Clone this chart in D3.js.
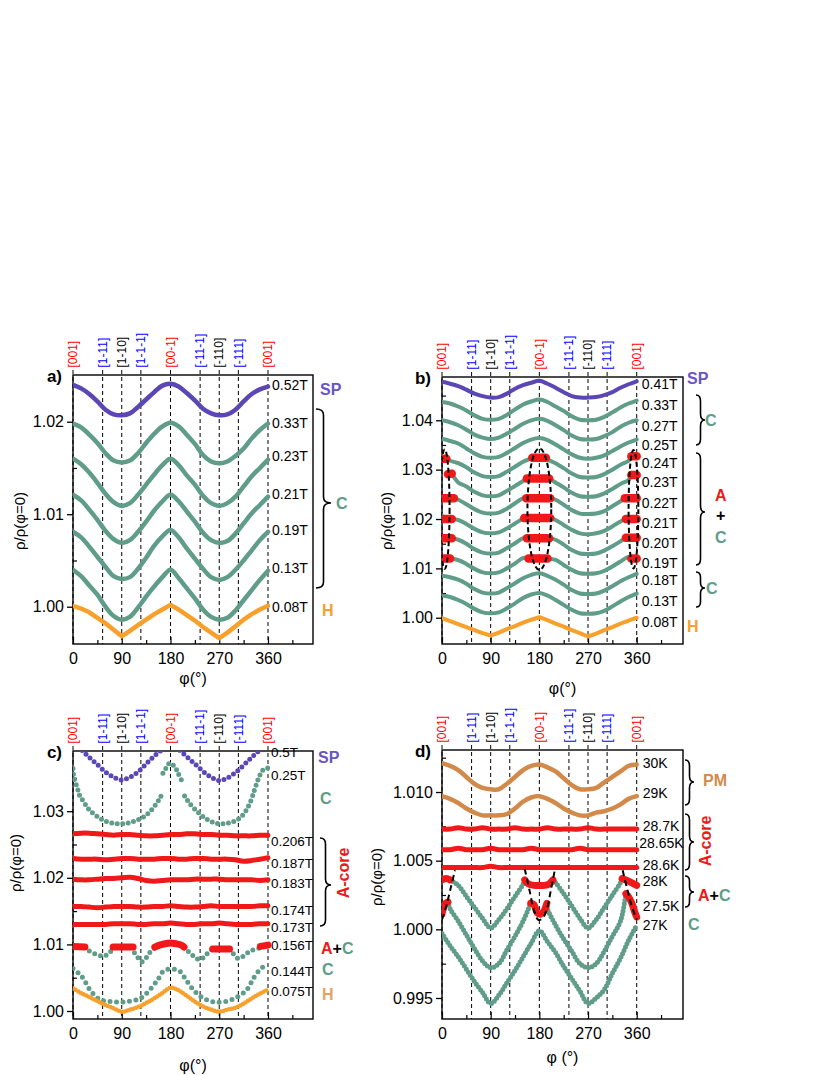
<!DOCTYPE html>
<html>
<head>
<meta charset="utf-8">
<script src="https://cdn.jsdelivr.net/npm/d3@7"></script>
<style>
body { margin: 0; background: #fff; }
text { font-family: "Liberation Sans", Arial, sans-serif; }
</style>
</head>
<body>
<svg id="fig" width="830" height="1075"></svg>
<script>
// rotation angle grid (deg)
var PHI = [0,15,30,45,60,75,90,105,120,135,150,165,180,195,210,225,240,255,270,285,300,315,330,345,360];

// crystal directions on top
var dirAngle = [0,54.7,90,125.3,180,234.7,270,305.3,360];
var dirName = ["[001]","[1-11]","[1-10]","[1-1-1]","[00-1]","[-11-1]","[-110]","[-111]","[001]"];
var dirColor = ["#ff0000","#0000ff","#000","#0000ff","#ff0000","#0000ff","#000","#0000ff","#ff0000"];
var xMajor = [0,90,180,270,360];
var xMinor = [45,135,225,315,405];

// ---- panel a
var aLabels = ["0.52T","0.33T","0.23T","0.21T","0.19T","0.13T","0.08T"];
var aLabelAt = [1.0240,1.0199,1.0163,1.0122,1.0083,1.0042,1.0000];
var aPhase = ["SP","C","C","C","C","C","H"];
var a052 = [1.0240,1.0236,1.0230,1.0222,1.0213,1.0208,1.0207,1.0209,1.0216,1.0224,1.0232,1.0239,1.0241,1.0238,1.0231,1.0223,1.0214,1.0209,1.0207,1.0208,1.0213,1.0222,1.0230,1.0235,1.0238];
var a033 = [1.0198,1.0194,1.0186,1.0177,1.0166,1.0158,1.0156,1.0158,1.0166,1.0177,1.0187,1.0195,1.0199,1.0195,1.0186,1.0176,1.0164,1.0157,1.0155,1.0157,1.0163,1.0171,1.0182,1.0191,1.0198];
var a023 = [1.0160,1.0154,1.0145,1.0134,1.0122,1.0113,1.0109,1.0112,1.0121,1.0132,1.0143,1.0153,1.0160,1.0153,1.0142,1.0132,1.0120,1.0112,1.0109,1.0112,1.0119,1.0130,1.0141,1.0150,1.0159];
var a021 = [1.0121,1.0115,1.0105,1.0094,1.0082,1.0073,1.0069,1.0072,1.0081,1.0092,1.0104,1.0114,1.0121,1.0114,1.0103,1.0092,1.0080,1.0072,1.0069,1.0071,1.0079,1.0090,1.0101,1.0110,1.0119];
var a019 = [1.0081,1.0075,1.0065,1.0054,1.0043,1.0033,1.0030,1.0032,1.0041,1.0053,1.0066,1.0076,1.0083,1.0075,1.0063,1.0052,1.0041,1.0032,1.0029,1.0032,1.0040,1.0050,1.0061,1.0072,1.0081];
var a013 = [1.0040,1.0033,1.0023,1.0013,1.0000,0.9990,0.9986,0.9989,0.9999,1.0011,1.0022,1.0032,1.0040,1.0031,1.0020,1.0009,0.9997,0.9989,0.9986,0.9988,0.9996,1.0007,1.0018,1.0029,1.0039];
var a008 = [1.0001,0.9998,0.9994,0.9988,0.9982,0.9975,0.9968,0.9974,0.9980,0.9986,0.9992,0.9997,1.0002,0.9997,0.9991,0.9985,0.9978,0.9972,0.9966,0.9972,0.9979,0.9986,0.9992,0.9997,1.0001];

// ---- panel b
var bLabels = ["0.41T","0.33T","0.27T","0.25T","0.24T","0.23T","0.22T","0.21T","0.20T","0.19T","0.18T","0.13T","0.08T"];
var bLabelAt = [1.0473,1.0430,1.0388,1.0350,1.0314,1.0275,1.0233,1.0192,1.0152,1.0110,1.0076,1.0034,0.9992];
var bPhase = ["SP","C","C","C","AC","AC","AC","AC","AC","AC","C","C","H"];
var b041 = [1.0478,1.0474,1.0469,1.0462,1.0454,1.0449,1.0446,1.0447,1.0454,1.0464,1.0471,1.0476,1.0480,1.0474,1.0466,1.0457,1.0449,1.0446,1.0446,1.0447,1.0451,1.0457,1.0466,1.0473,1.0479];
var b033 = [1.0437,1.0434,1.0428,1.0420,1.0410,1.0403,1.0401,1.0403,1.0411,1.0422,1.0432,1.0438,1.0442,1.0437,1.0428,1.0419,1.0408,1.0401,1.0400,1.0401,1.0407,1.0416,1.0426,1.0434,1.0440];
var b027 = [1.0400,1.0396,1.0390,1.0381,1.0371,1.0365,1.0362,1.0365,1.0373,1.0383,1.0393,1.0400,1.0403,1.0399,1.0390,1.0380,1.0369,1.0362,1.0361,1.0362,1.0368,1.0376,1.0387,1.0395,1.0400];
var b025 = [1.0363,1.0358,1.0353,1.0343,1.0333,1.0326,1.0324,1.0326,1.0334,1.0344,1.0354,1.0361,1.0364,1.0360,1.0351,1.0341,1.0331,1.0324,1.0322,1.0324,1.0329,1.0338,1.0347,1.0355,1.0361];
var b024 = [1.0321,1.0318,1.0313,1.0305,1.0294,1.0287,1.0285,1.0287,1.0296,1.0306,1.0316,1.0323,1.0326,1.0321,1.0313,1.0303,1.0292,1.0285,1.0284,1.0285,1.0291,1.0300,1.0310,1.0318,1.0325];
var b023 = [null,1.0279,1.0274,1.0266,1.0255,1.0248,1.0246,1.0248,1.0257,1.0267,1.0277,1.0284,1.0287,1.0282,1.0274,1.0264,1.0253,1.0246,1.0245,1.0246,1.0252,1.0261,1.0271,1.0279,1.0286];
var b022 = [1.0247,1.0244,1.0239,1.0230,1.0220,1.0213,1.0211,1.0213,1.0221,1.0232,1.0242,1.0249,1.0252,1.0247,1.0239,1.0229,1.0218,1.0211,1.0210,1.0211,1.0216,1.0226,1.0236,1.0244,1.0251];
var b021 = [1.0207,1.0203,1.0198,1.0190,1.0180,1.0173,1.0171,1.0173,1.0181,1.0191,1.0201,1.0208,1.0212,1.0207,1.0198,1.0188,1.0178,1.0171,1.0169,1.0171,1.0176,1.0185,1.0195,1.0203,1.0210];
var b020 = [1.0166,1.0163,1.0158,1.0150,1.0139,1.0132,1.0130,1.0132,1.0141,1.0151,1.0161,1.0168,1.0171,1.0166,1.0158,1.0148,1.0137,1.0130,1.0129,1.0130,1.0136,1.0145,1.0155,1.0163,1.0170];
var b019 = [1.0126,1.0123,1.0117,1.0109,1.0099,1.0092,1.0090,1.0092,1.0100,1.0110,1.0121,1.0127,1.0131,1.0126,1.0117,1.0107,1.0097,1.0090,1.0089,1.0090,1.0095,1.0104,1.0114,1.0123,1.0130];
var b018 = [1.0085,1.0082,1.0077,1.0069,1.0058,1.0051,1.0049,1.0051,1.0060,1.0070,1.0080,1.0087,1.0090,1.0085,1.0077,1.0067,1.0056,1.0049,1.0048,1.0049,1.0055,1.0064,1.0074,1.0082,1.0089];
var b013 = [1.0045,1.0042,1.0036,1.0028,1.0018,1.0011,1.0009,1.0011,1.0019,1.0029,1.0040,1.0047,1.0050,1.0045,1.0036,1.0026,1.0016,1.0009,1.0008,1.0009,1.0014,1.0023,1.0033,1.0042,1.0049];
var b008 = [0.9999,0.9993,0.9987,0.9981,0.9975,0.9969,0.9964,0.9970,0.9977,0.9983,0.9990,0.9996,1.0001,0.9995,0.9988,0.9982,0.9975,0.9969,0.9962,0.9968,0.9975,0.9981,0.9988,0.9994,1.0000];
// red (A phase) pieces of the A+C curves: [phi, value] points
var bRed024 = [[[0,1.0322],[8,1.0322]], [[167,1.0324],[192,1.0324]], [[350,1.0327],[360,1.0327]]];
var bRed023 = [[[11,1.0291],[18,1.0292]], [[157,1.0282],[198,1.0282]], [[350,1.0289],[360,1.0289]]];
var bRed022 = [[[0,1.0242],[22,1.0242]], [[156,1.0242],[200,1.0242]], [[338,1.0242],[360,1.0242]]];
var bRed021 = [[[2,1.0200],[18,1.0200]], [[152,1.0202],[200,1.0202]], [[340,1.0200],[360,1.0200]]];
var bRed020 = [[[0,1.0161],[18,1.0161]], [[157,1.0161],[198,1.0161]], [[340,1.0162],[360,1.0162]]];
var bRed019 = [[[0,1.0120],[15,1.0120]], [[160,1.0120],[195,1.0120]], [[350,1.0120],[360,1.0120]]];
// dashed ellipses: [phi centre, value centre, phi half width, value half height]
var bEllipse = [[5,1.0220,9,0.0121],[180,1.0220,22,0.0123],[354,1.0220,9,0.0120]];

// ---- panel c
var cLabels = ["0.5T","0.25T","0.206T","0.187T","0.183T","0.174T","0.173T","0.156T","0.144T","0.075T"];
var cLabelAt = [1.0389,1.0354,1.0255,1.0222,1.0192,1.0152,1.0126,1.0098,1.0060,1.0029];
var c05 = [1.0412,1.0393,1.0381,1.0370,1.0359,1.0351,1.0347,1.0351,1.0359,1.0371,1.0383,1.0393,1.0405,1.0393,1.0382,1.0371,1.0360,1.0351,1.0346,1.0350,1.0358,1.0369,1.0381,1.0392,1.0405];
var cPhi025 = [0,2,8,12,20,30,45,60,75,90,105,120,135,150,160,166,null,166,172,178,184,190,194,200,null,206,215,230,245,260,275,290,305,318,328,335,340,345,352,360];
var c025 = [1.0364,1.0350,1.0335,1.0324,1.0314,1.0302,1.0292,1.0285,1.0282,1.0281,1.0283,1.0287,1.0294,1.0307,1.0319,1.0329,null,1.0357,1.0365,1.0372,1.0370,1.0364,1.0357,1.0347,null,1.0323,1.0312,1.0299,1.0289,1.0283,1.0281,1.0283,1.0288,1.0299,1.0315,1.0332,1.0344,1.0354,1.0363,1.0365];
var c206 = [1.0266,1.0267,1.0267,1.0266,1.0265,1.0264,1.0265,1.0265,1.0264,1.0263,1.0263,1.0264,1.0265,1.0265,1.0266,1.0266,1.0265,1.0265,1.0264,1.0264,1.0263,1.0263,1.0263,1.0264,1.0264];
var c187 = [1.0229,1.0228,1.0228,1.0228,1.0227,1.0228,1.0229,1.0229,1.0228,1.0228,1.0228,1.0229,1.0229,1.0228,1.0228,1.0229,1.0229,1.0228,1.0228,1.0228,1.0227,1.0225,1.0226,1.0228,1.0230];
var c183 = [1.0198,1.0197,1.0197,1.0198,1.0199,1.0199,1.0200,1.0201,1.0199,1.0196,1.0195,1.0196,1.0197,1.0197,1.0197,1.0198,1.0198,1.0198,1.0198,1.0197,1.0197,1.0197,1.0197,1.0196,1.0197];
var c174 = [1.0157,1.0157,1.0156,1.0155,1.0156,1.0157,1.0157,1.0157,1.0156,1.0156,1.0157,1.0157,1.0158,1.0157,1.0156,1.0156,1.0157,1.0158,1.0157,1.0157,1.0157,1.0157,1.0157,1.0158,1.0158];
var c173 = [1.0130,1.0130,1.0130,1.0130,1.0130,1.0131,1.0131,1.0131,1.0130,1.0130,1.0131,1.0131,1.0132,1.0131,1.0130,1.0130,1.0131,1.0131,1.0132,1.0131,1.0130,1.0130,1.0130,1.0131,1.0131];
var cPhi156 = [0,20,30,40,50,56,62,70,78,90,105,112,120,127,135,142,150,165,180,195,205,215,225,234,242,250,259,275,290,298,305,312,320,330,345,360];
var c156 = [1.0096,1.0094,1.0090,1.0086,1.0083,1.0082,1.0084,1.0090,1.0095,1.0097,1.0096,1.0090,1.0080,1.0074,1.0080,1.0088,1.0094,1.0099,1.0100,1.0099,1.0095,1.0088,1.0081,1.0077,1.0081,1.0088,1.0093,1.0093,1.0092,1.0084,1.0079,1.0081,1.0086,1.0091,1.0095,1.0097];
var cRed156 = [[[0,1.0097],[22,1.0096]], [[74,1.0096],[111,1.0096]], [[151,1.0096],[160,1.0099],[170,1.0101],[180,1.0102],[190,1.0101],[200,1.0099],[205,1.0096]], [[258,1.0093],[289,1.0093]], [[346,1.0097],[360,1.0099]]];
var cPhi144 = [0,10,19,31,50,74,99,124,142,158,167,179,190,198,207,222,241,265,296,321,333,345,354,360];
var c144 = [1.0064,1.0057,1.0049,1.0032,1.0017,1.0014,1.0014,1.0019,1.0032,1.0049,1.0060,1.0063,1.0062,1.0059,1.0049,1.0032,1.0019,1.0013,1.0018,1.0032,1.0049,1.0062,1.0067,1.0064];
var c075 = [1.0034,1.0027,1.0021,1.0015,1.0009,1.0004,0.9999,1.0002,1.0006,1.0012,1.0019,1.0027,1.0035,1.0031,1.0023,1.0014,1.0007,1.0002,0.9999,1.0002,1.0005,1.0011,1.0019,1.0026,1.0032];

// ---- panel d
var dLabels = ["30K","29K","28.7K","28.65K","28.6K","28K","27.5K","27K"];
var dLabelAt = [1.0121,1.0099,1.0075,1.0063,1.0047,1.0035,1.0017,1.0003];
var d30 = [1.0121,1.0119,1.0116,1.0111,1.0106,1.0103,1.0102,1.0102,1.0106,1.0111,1.0116,1.0119,1.0120,1.0118,1.0115,1.0110,1.0105,1.0102,1.0102,1.0103,1.0107,1.0111,1.0115,1.0119,1.0120];
var d29 = [1.0097,1.0095,1.0092,1.0088,1.0085,1.0083,1.0083,1.0083,1.0084,1.0088,1.0093,1.0096,1.0097,1.0095,1.0092,1.0088,1.0085,1.0083,1.0083,1.0085,1.0086,1.0088,1.0091,1.0095,1.0097];
var d287 = [1.0073,1.0073,1.0074,1.0073,1.0073,1.0074,1.0073,1.0073,1.0073,1.0074,1.0073,1.0073,1.0073,1.0074,1.0073,1.0073,1.0073,1.0073,1.0074,1.0073,1.0073,1.0073,1.0073,1.0073,1.0073];
var d2865 = [1.0058,1.0058,1.0059,1.0058,1.0058,1.0058,1.0059,1.0058,1.0058,1.0058,1.0058,1.0059,1.0058,1.0058,1.0058,1.0058,1.0058,1.0059,1.0058,1.0058,1.0058,1.0058,1.0058,1.0058,1.0058];
var d286 = [1.0045,1.0045,1.0045,1.0045,1.0045,1.0045,1.0046,1.0045,1.0045,1.0045,1.0045,1.0045,1.0045,1.0045,1.0045,1.0045,1.0045,1.0045,1.0045,1.0045,1.0045,1.0045,1.0045,1.0045,1.0045];
var d28 = [null,1.0037,1.0032,1.0024,1.0016,1.0008,1.0001,1.0007,1.0015,1.0024,1.0033,null,null,null,1.0034,1.0026,1.0017,1.0008,1.0001,1.0007,1.0016,1.0025,1.0034,null,null];
var dRed28 = [[[0,1.0036],[8,1.0037],[15,1.0036]], [[153,1.0036],[160,1.0033],[170,1.0032],[180,1.0032],[190,1.0032],[198,1.0033],[205,1.0036]], [[333,1.0037],[345,1.0035],[360,1.0032]]];
var d275 = [null,1.0015,1.0006,0.9996,0.9986,0.9977,0.9972,0.9975,0.9985,0.9995,1.0006,null,null,1.0015,1.0003,0.9993,0.9984,0.9975,0.9972,0.9975,0.9984,0.9995,1.0006,null,null];
var dRed275 = [[[0,1.0011],[3,1.0016],[7,1.0019],[11,1.0020]], [[164,1.0019],[170,1.0018],[176,1.0012],[182,1.0011],[188,1.0013],[194,1.0019]], [[340,1.0026],[346,1.0023],[352,1.0018],[356,1.0013],[360,1.0009]]];
var d27 = [0.9997,0.9988,0.9980,0.9971,0.9962,0.9954,0.9946,0.9952,0.9961,0.9970,0.9980,0.9990,0.9999,0.9991,0.9983,0.9973,0.9964,0.9955,0.9946,0.9950,0.9956,0.9968,0.9979,0.9992,1.0003];
var dArcs = [
  [[0,1.0007],[8,1.0017],[16,1.0030],[24,1.0043]],
  [[153,1.0044],[162,1.0028],[170,1.0014],[178,1.0007],[186,1.0008],[194,1.0015],[201,1.0028],[209,1.0044]],
  [[334,1.0043],[342,1.0030],[350,1.0018],[360,1.0007]]
];

var COL = {SP:"#5b46b5", C:"#5f9d88", H:"#f8a02c", A:"#f01818", PM:"#d28a4a", Htan:"#e7a262", SPt:"#6a54c4"};

var svg = d3.select("#fig");
var defs = svg.append("defs");

function panel(p){
  var x = d3.scaleLinear().domain([0, p.xmax]).range([p.left, p.right]);
  var y = d3.scaleLinear().domain(p.ydom).range([p.bottom, p.top]);
  var g = svg.append("g");
  defs.append("clipPath").attr("id","clip-"+p.id).append("rect")
    .attr("x",p.left).attr("y",p.top).attr("width",p.right-p.left).attr("height",p.bottom-p.top);

  // y axis
  g.append("g").attr("transform","translate("+p.left+",0)")
    .call(d3.axisLeft(y).tickValues(p.major).tickSize(6).tickPadding(3).tickFormat(d3.format(p.fmt)))
    .call(function(a){ a.select(".domain").remove(); })
    .attr("font-family",null).attr("font-size",16)
    .call(function(a){ a.selectAll("line").attr("stroke","#000").attr("stroke-width",1.3); a.selectAll("text").attr("fill","#000"); });
  g.append("g").attr("transform","translate("+p.left+",0)")
    .call(d3.axisLeft(y).tickValues(p.minor).tickSize(-4).tickFormat(""))
    .call(function(a){ a.select(".domain").remove(); a.selectAll("line").attr("stroke","#000").attr("stroke-width",1.2); });
  // x axis
  g.append("g").attr("transform","translate(0,"+p.bottom+")")
    .call(d3.axisBottom(x).tickValues(xMajor).tickSize(-7).tickPadding(9).tickFormat(d3.format("d")))
    .call(function(a){ a.select(".domain").remove(); })
    .attr("font-family",null).attr("font-size",16)
    .call(function(a){ a.selectAll("line").attr("stroke","#000").attr("stroke-width",1.2); a.selectAll("text").attr("fill","#000"); });
  g.append("g").attr("transform","translate(0,"+p.bottom+")")
    .call(d3.axisBottom(x).tickValues(xMinor).tickSize(-4).tickFormat(""))
    .call(function(a){ a.select(".domain").remove(); a.selectAll("line").attr("stroke","#000").attr("stroke-width",1.2); });

  // direction lines and labels
  dirAngle.forEach(function(f,i){
    g.append("line").attr("x1",x(f)).attr("x2",x(f)).attr("y1",p.top-5).attr("y2",p.bottom)
      .attr("stroke","#000").attr("stroke-width",1).attr("stroke-dasharray","4,3");
    g.append("text").attr("transform","translate("+x(f)+","+(p.top-7.5)+") rotate(-90)")
      .attr("dy","0.35em").attr("font-size",12).attr("fill",dirColor[i]).text(dirName[i]);
  });

  // frame
  g.append("rect").attr("x",p.left).attr("y",p.top).attr("width",p.right-p.left).attr("height",p.bottom-p.top)
    .attr("fill","none").attr("stroke","#000").attr("stroke-width",1.4);

  // titles
  g.append("text").attr("x",p.left-11).attr("y",p.top+7).attr("text-anchor","end")
    .attr("font-size",17).attr("font-weight","bold").text(p.tag);
  g.append("text").attr("x",(p.left+p.right)/2).attr("y",p.xtY).attr("dy","0.35em").attr("text-anchor","middle")
    .attr("font-size",16).text(p.xt);
  g.append("text").attr("transform","translate("+p.ytX+","+p.ytY+") rotate(-90)").attr("dy","0.35em")
    .attr("text-anchor","middle").attr("font-size",15).text("ρ/ρ(φ=0)");

  var plot = svg.append("g").attr("clip-path","url(#clip-"+p.id+")");
  return {x:x, y:y, g:g, plot:plot, p:p};
}

function pairs(phi, vals){
  return phi.map(function(f,i){ return (f==null || vals[i]==null) ? null : [f, vals[i]]; });
}

// curve points outside the red pieces, joined to their ends
function splitByRed(phi, vals, reds){
  var wins = reds.map(function(r){ return [r[0][0], r[r.length-1][0]]; });
  var pts = [];
  phi.forEach(function(f,i){
    if (vals[i]==null) return;
    if (wins.some(function(w){ return f>=w[0] && f<=w[1]; })) return;
    pts.push([f, vals[i], "c"]);
  });
  reds.forEach(function(r){
    pts.push([r[0][0], r[0][1], "s"]);
    pts.push([r[r.length-1][0], r[r.length-1][1], "e"]);
  });
  pts.sort(function(a,b){ return a[0]-b[0] || (a[2]==="s" ? -1 : 1); });
  var out = [];
  pts.forEach(function(q){ if (q[2]==="e") out.push(null); out.push(q); });
  return out;
}

function draw(P, data, color, width, curve, dotGap){
  var line = d3.line().defined(function(d){ return d!=null; })
    .x(function(d){ return P.x(d[0]); }).y(function(d){ return P.y(d[1]); })
    .curve(curve || d3.curveCatmullRom);
  var path = P.plot.append("path").attr("d", line(data)).attr("fill","none")
    .attr("stroke",color).attr("stroke-width",width).attr("stroke-linecap","round").attr("stroke-linejoin","round");
  if (dotGap) path.attr("stroke-dasharray","0 "+dotGap);
  return path;
}

function drawRed(P, reds, width){
  reds.forEach(function(r){ draw(P, r, COL.A, width, d3.curveCatmullRom); });
}

function labels(P, names, at, dx, size){
  names.forEach(function(s,i){
    var yy = Math.max(P.p.top, P.y(at[i]));
    var ddx = typeof dx === "function" ? dx(s) : dx;
    P.g.append("text").attr("x",P.x(360)+ddx).attr("y",yy).attr("dy","0.35em")
      .attr("font-size",size).attr("fill","#000").text(s);
  });
}

function note(x, y, s, color, size, rot){
  var t = svg.append("text").attr("font-weight","bold").attr("font-size",size||16).attr("fill",color).attr("dy","0.35em");
  if (rot) t.attr("transform","translate("+x+","+y+") rotate(-90)").attr("text-anchor","middle");
  else t.attr("x",x).attr("y",y);
  t.text(s);
  return t;
}

function noteAC(x, y){
  var t = svg.append("text").attr("x",x).attr("y",y).attr("dy","0.35em").attr("font-weight","bold").attr("font-size",16);
  t.append("tspan").attr("fill",COL.A).text("A");
  t.append("tspan").attr("fill","#000").text("+");
  t.append("tspan").attr("fill",COL.C).text("C");
}

function brace(x, y0, y1, ym, w){
  var h = w/2, r = Math.min(6, (ym-y0)/3, (y1-ym)/3);
  var d = "M"+x+","+y0+" Q"+(x+h)+","+y0+" "+(x+h)+","+(y0+r)+" L"+(x+h)+","+(ym-r)+
    " Q"+(x+h)+","+ym+" "+(x+w)+","+ym+" Q"+(x+h)+","+ym+" "+(x+h)+","+(ym+r)+
    " L"+(x+h)+","+(y1-r)+" Q"+(x+h)+","+y1+" "+x+","+y1;
  svg.append("path").attr("d",d).attr("fill","none").attr("stroke","#000").attr("stroke-width",1.6);
}

// ================= panel a
var A = panel({id:"a", left:73, right:313, top:375, bottom:644, xmax:443.1, ydom:[0.99597,1.02505],
  major:[1.00,1.01,1.02], minor:[1.005,1.015], fmt:".2f", tag:"a)", xt:"φ(°)", xtY:678, ytX:20, ytY:521});
[a052,a033,a023,a021,a019,a013,a008].forEach(function(v,i){
  var ph = aPhase[i];
  draw(A, pairs(PHI, v), COL[ph], 4.5, ph==="H" ? d3.curveLinear : d3.curveCatmullRom);
});
labels(A, aLabels, aLabelAt, 4, 14);
note(320, 389, "SP", COL.SPt);
brace(316, 409, 588, 503, 15);
note(336, 503, "C", COL.C);
note(322, 610, "H", COL.H);

// ================= panel b
var B = panel({id:"b", left:442, right:683, top:377, bottom:644, xmax:445.6, ydom:[0.99468,1.04877],
  major:[1.00,1.01,1.02,1.03,1.04], minor:[1.005,1.015,1.025,1.035,1.045], fmt:".2f", tag:"b)", xt:"φ(°)", xtY:688, ytX:387, ytY:521});
var bSeries = [b041,b033,b027,b025,b024,b023,b022,b021,b020,b019,b018,b013,b008];
var bReds = {4:bRed024, 5:bRed023, 6:bRed022, 7:bRed021, 8:bRed020, 9:bRed019};
bSeries.forEach(function(v,i){
  var ph = bPhase[i];
  if (ph==="AC") draw(B, splitByRed(PHI, v, bReds[i]), COL.C, 4);
  else draw(B, pairs(PHI, v), ph==="SP" ? COL.SP : COL[ph], 4, ph==="H" ? d3.curveLinear : d3.curveCatmullRom);
});
Object.keys(bReds).forEach(function(k){ drawRed(B, bReds[k], 8.5); });
bEllipse.forEach(function(e){
  B.plot.append("ellipse").attr("cx",B.x(e[0])).attr("cy",B.y(e[1]))
    .attr("rx",B.x(e[2])-B.x(0)).attr("ry",B.y(e[1]-e[3])-B.y(e[1]))
    .attr("fill","none").attr("stroke","#000").attr("stroke-width",2).attr("stroke-dasharray","5,3");
});
labels(B, bLabels, bLabelAt, 5, 14);
note(687, 378, "SP", COL.SPt);
brace(696, 395, 445, 420, 9);
note(705, 420, "C", COL.C);
brace(696, 453, 565, 512, 9);
note(715, 495, "A", COL.A);
note(716, 515, "+", "#000");
note(715, 537, "C", COL.C);
brace(696, 572, 607, 588, 9);
note(706, 588, "C", COL.C);
note(687, 626, "H", COL.H);

// ================= panel c
var Cp = panel({id:"c", left:73, right:313, top:751, bottom:1019, xmax:443.1, ydom:[0.9988,1.03904],
  major:[1.00,1.01,1.02,1.03], minor:[1.005,1.015,1.025,1.035], fmt:".2f", tag:"c)", xt:"φ(°)", xtY:1065, ytX:16, ytY:863});
draw(Cp, pairs(PHI, c05), COL.SP, 5, d3.curveCatmullRom, 5.5);
draw(Cp, pairs(cPhi025, c025), COL.C, 5, d3.curveCatmullRom, 5.5);
[c206,c187,c183,c174,c173].forEach(function(v){ draw(Cp, pairs(PHI, v), COL.A, 5); });
draw(Cp, splitByRed(cPhi156, c156, cRed156), COL.C, 5, d3.curveCatmullRom, 6);
drawRed(Cp, cRed156, 7);
draw(Cp, pairs(cPhi144, c144), COL.C, 5, d3.curveCatmullRom, 6.5);
draw(Cp, pairs(PHI, c075), COL.H, 4.5, d3.curveCatmullRom, 3);
labels(Cp, cLabels, cLabelAt, 3, 13.5);
note(318, 757, "SP", COL.SPt);
note(320, 798, "C", COL.C);
brace(320, 838, 926, 885, 11);
note(343, 873, "A-core", COL.A, 16, true);
noteAC(321, 948);
note(322, 969, "C", COL.C);
note(322, 994, "H", COL.Htan);

// ================= panel d
var D = panel({id:"d", left:442, right:683, top:750, bottom:1019, xmax:445.6, ydom:[0.99347,1.01306],
  major:[0.995,1.000,1.005,1.010], minor:[0.9975,1.0025,1.0075,1.0125], fmt:".3f", tag:"d)", xt:"φ (°)", xtY:1057, ytX:377, ytY:877});
draw(D, pairs(PHI, d30), COL.PM, 4.5);
draw(D, pairs(PHI, d29), COL.PM, 4.5);
[d287,d2865,d286].forEach(function(v){ draw(D, pairs(PHI, v), COL.A, 5); });
draw(D, splitByRed(PHI, d28, dRed28), COL.C, 5, d3.curveCatmullRom, 3.6);
draw(D, splitByRed(PHI, d275, dRed275), COL.C, 5, d3.curveCatmullRom, 3.6);
draw(D, pairs(PHI, d27), COL.C, 5, d3.curveCatmullRom, 3.6);
drawRed(D, dRed28, 7);
drawRed(D, dRed275, 7);
dArcs.forEach(function(a){
  draw(D, a, "#000", 2, d3.curveCatmullRom).attr("stroke-linecap","butt").attr("stroke-dasharray","6,4");
});
labels(D, dLabels, dLabelAt, function(s){ return s.length > 5 ? 2.5 : 6; }, 14);
brace(685, 760, 805, 782, 9);
note(703, 780, "PM", COL.PM);
brace(685, 814, 870, 842, 9);
note(705, 841, "A-core", COL.A, 16, true);
brace(685, 876, 907, 892, 9);
noteAC(698, 895);
note(688, 924, "C", COL.C);
</script>
</body>
</html>
